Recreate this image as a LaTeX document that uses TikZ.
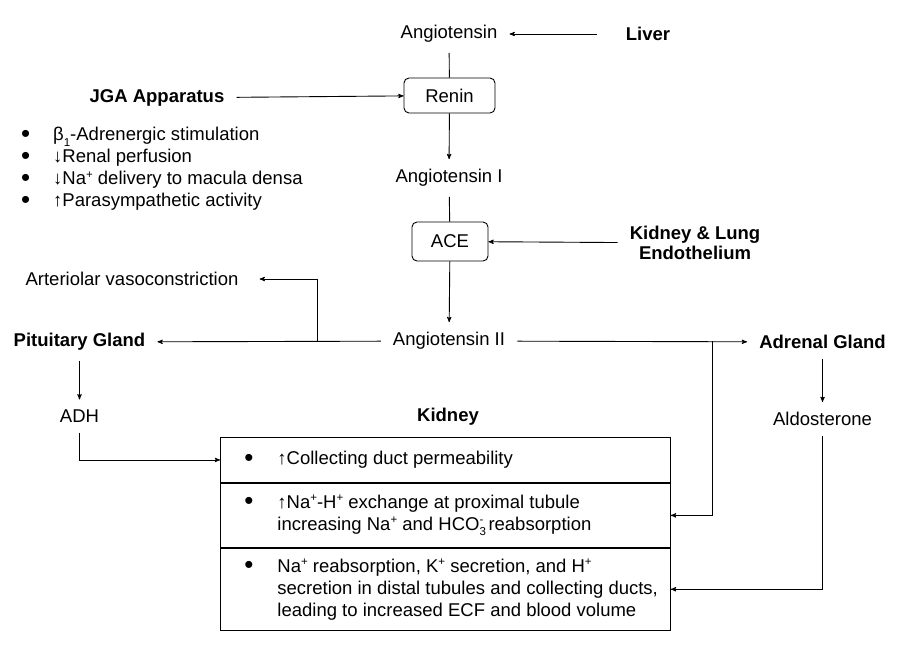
\documentclass[tikz,border=0pt]{standalone}
\usepackage{fontspec}
\setmainfont{Liberation Sans}
\usetikzlibrary{arrows}

\newcommand{\up}[1]{\raisebox{0.34em}{\fontsize{11.5}{11}\selectfont #1}}
\newcommand{\dn}[1]{\raisebox{-0.32em}{\fontsize{11.5}{11}\selectfont #1}}
\newcommand{\dotmark}{\smash{\raisebox{-1.5pt}{\scalebox{1.4}{\textbullet}}}}

\begin{document}
\begin{tikzpicture}[x=1pt,y=-1pt,
  font=\fontsize{18.5}{22}\selectfont,
  every node/.style={align=center},
  txt/.style={inner xsep=12pt,inner ysep=10pt},
  organ/.style={txt,font=\fontsize{18.5}{20}\selectfont\bfseries},
  enzyme/.style={draw,line width=0.9pt,rounded corners=5pt},
  row/.style={draw,line width=0.9pt,anchor=north west,minimum width=450pt,inner sep=0pt,align=left},
  to/.style={->,>=stealth',line width=0.9pt},
  link/.style={line width=0.9pt}]

  \useasboundingbox (0,0) rectangle (909,653);

  % Angiotensinogen and renin
  \node[txt] (angio) at (449,34) {Angiotensin};
  \node[organ] (liver) at (648,34) {Liver};
  \node[enzyme,minimum width=91pt,minimum height=35pt] (renin) at (449.5,95.5) {Renin};
  \node[organ] (jga) at (157,98) {JGA Apparatus};
  \node[anchor=west,align=left,inner sep=0pt] (jgalist) at (20.8,169) {%
    \makebox[32.2pt][l]{\dotmark}β\dn{1}-Adrenergic stimulation\\
    \makebox[32.2pt][l]{\dotmark}↓Renal perfusion\\
    \makebox[32.2pt][l]{\dotmark}↓Na\up{+} delivery to macula densa\\
    \makebox[32.2pt][l]{\dotmark}↑Parasympathetic activity};
  \node[txt] (angioI) at (449,178) {Angiotensin I};
  \node[enzyme,minimum width=76pt,minimum height=39pt] (ace) at (450,241.5) {ACE};
  \node[organ] (endo) at (695,243) {Kidney \& Lung\\Endothelium};

  % Angiotensin II and its targets
  \node[txt] (arterio) at (132,279) {Arteriolar vasoconstriction};
  \node[txt] (angioII) at (449,341) {Angiotensin II};
  \node[organ] (pit) at (79.5,342) {Pituitary Gland};
  \node[organ] (adrenal) at (822.5,342) {Adrenal Gland};
  \node[txt] (adh) at (79.5,416) {ADH};
  \node[organ] (kidney) at (448,417) {Kidney};
  \node[txt] (aldo) at (822.5,419) {Aldosterone};
  \coordinate (brL) at (317,341);
  \coordinate (brR) at (712,341);

  % Kidney effects
  \node[row,minimum height=45pt] (row1) at (220,437) {%
    \makebox[57pt][l]{\hspace{23.8pt}\dotmark}\parbox[t]{393pt}{\raggedright
    ↑Collecting duct permeability}};
  \node[row,minimum height=64pt] (row2) at (row1.south west) {%
    \makebox[57pt][l]{\hspace{23.8pt}\dotmark}\parbox[t]{393pt}{\raggedright
    ↑Na\up{+}-H\up{+} exchange at proximal tubule\\
    increasing Na\up{+} and HCO\rlap{\dn{3}}\up{-} reabsorption}};
  \node[row,minimum height=82pt] (row3) at (row2.south west) {%
    \makebox[57pt][l]{\hspace{23.8pt}\dotmark}\parbox[t]{393pt}{\raggedright
    Na\up{+} reabsorption, K\up{+} secretion, and H\up{+}\\
    secretion in distal tubules and collecting ducts,\\
    leading to increased ECF and blood volume}};

  % Connections
  \draw[to,shorten <=17pt] (liver) -- (angio);
  \draw[link] (angio) -- (renin);
  \draw[to] (jga) -- (renin);
  \draw[to] (renin) -- (angioI);
  \draw[link] (angioI) -- (ace);
  \draw[to] (endo) -- (ace);
  \draw[to] (ace) -- (angioII);
  \draw[to] (angioII) -- (pit);
  \draw[to,shorten >=9pt] (brL) |- (arterio);
  \draw[to] (angioII) -- (adrenal);
  \draw[to] (brR) |- (row2.east);
  \draw[to] (pit) -- (adh);
  \draw[to] (adrenal) -- (aldo);
  \draw[to] (adh) |- (row1.west);
  \draw[to] (aldo) |- (row3.east);
\end{tikzpicture}
\end{document}
